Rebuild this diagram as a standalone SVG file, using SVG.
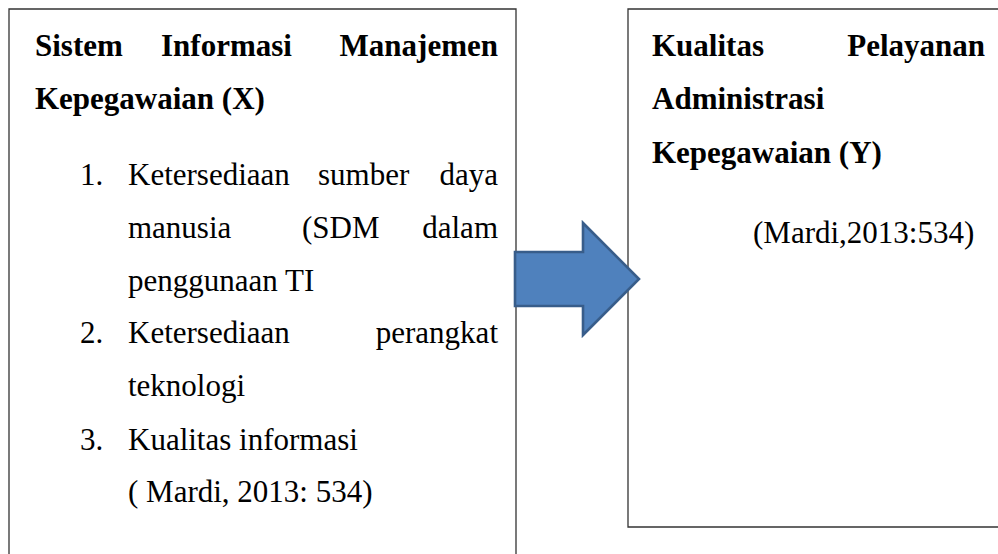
<svg xmlns="http://www.w3.org/2000/svg" width="998" height="554" viewBox="0 0 998 554">
<style>
.box{fill:none;stroke:#333;stroke-width:1.3}
.t{font-family:"Liberation Serif","Times New Roman",serif;font-size:31px;fill:#000}
.b{font-weight:bold}
.e{text-anchor:end}
</style>
<rect width="998" height="554" fill="#fff"/>
<g id="node-x">
<path class="box" d="M9,560 V9 H516 V560"/>
<text class="t b" x="35" y="56">Sistem</text>
<text class="t b" x="161" y="56">Informasi</text>
<text class="t b e" x="498" y="56">Manajemen</text>
<text class="t b" x="35" y="109">Kepegawaian (X)</text>
<text class="t" x="80" y="185">1.</text>
<text class="t" x="128" y="185">Ketersediaan</text>
<text class="t" x="318" y="185">sumber</text>
<text class="t e" x="498" y="185">daya</text>
<text class="t" x="128" y="238">manusia</text>
<text class="t" x="302" y="238">(SDM</text>
<text class="t e" x="498" y="238">dalam</text>
<text class="t" x="128" y="291">penggunaan TI</text>
<text class="t" x="80" y="343">2.</text>
<text class="t" x="128" y="343">Ketersediaan</text>
<text class="t e" x="498" y="343">perangkat</text>
<text class="t" x="128" y="396">teknologi</text>
<text class="t" x="80" y="450">3.</text>
<text class="t" x="128" y="450">Kualitas informasi</text>
<text class="t" x="128" y="502">( Mardi, 2013: 534)</text>
</g>
<g id="node-y">
<path class="box" d="M1000,9 H628 V527 H1000"/>
<text class="t b" x="652" y="56">Kualitas</text>
<text class="t b e" x="985" y="56">Pelayanan</text>
<text class="t b" x="652" y="109">Administrasi</text>
<text class="t b" x="652" y="163">Kepegawaian (Y)</text>
<text class="t" x="753" y="243">(Mardi,2013:534)</text>
</g>
<g id="connectors">
<polygon points="515,252 583,252 583,223 639,279 583,335 583,306 515,306" fill="#4f81bd" stroke="#385d8a" stroke-width="2.6" stroke-linejoin="miter"/>
</g>
</svg>
